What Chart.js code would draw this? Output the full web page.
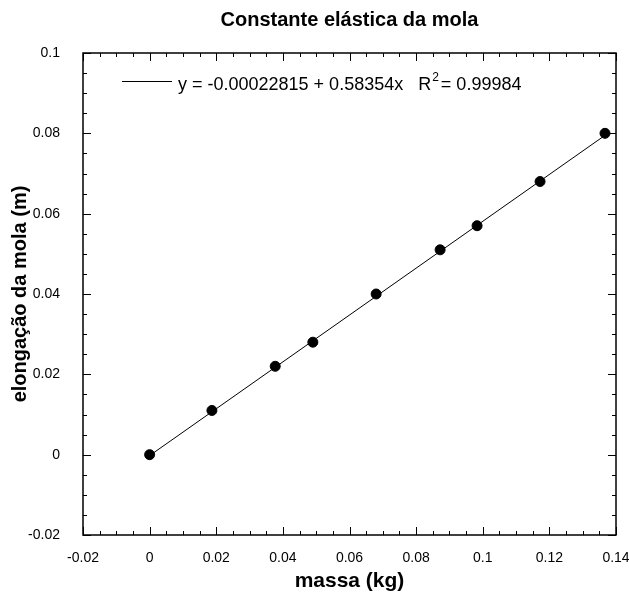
<!DOCTYPE html>
<html>
<head>
<meta charset="utf-8">
<script src="https://cdn.jsdelivr.net/npm/chart.js@4.4.0/dist/chart.umd.min.js"></script>
<style>
  html, body { margin: 0; padding: 0; background: #fff; }
  #grafico { display: block; }
</style>
</head>
<body>
<canvas id="grafico" width="629" height="594"></canvas>
<script>
// dados medidos: massa (kg) e elongação (m)
const massa = [0, 0.0187, 0.0377, 0.049, 0.068, 0.0872, 0.0983, 0.1172, 0.1367];
const elongacao = [0, 0.011, 0.022, 0.028, 0.040, 0.051, 0.057, 0.068, 0.080];

// reta ajustada (extremos)
const ajusteX = [0, 0.1367];
const ajusteY = [-0.00023, 0.0795];
const textoAjuste = 'y = -0.00022815 + 0.58354x';
const textoR2 = '= 0.99984';

const xTicks = [-0.02, 0, 0.02, 0.04, 0.06, 0.08, 0.1, 0.12, 0.14];
const xTickLabels = ['-0.02', '0', '0.02', '0.04', '0.06', '0.08', '0.1', '0.12', '0.14'];
const yTicks = [-0.02, 0, 0.02, 0.04, 0.06, 0.08, 0.1];
const yTickLabels = ['-0.02', '0', '0.02', '0.04', '0.06', '0.08', '0.1'];

const fonte = 'Arial, "Liberation Sans", sans-serif';

function pontos(xs, ys) {
    return xs.map((x, i) => ({x: x, y: ys[i]}));
}

// caixa + marcas para dentro nos quatro lados
const marcas = {
    id: 'marcas',
    afterDraw(chart) {
        const c = chart.ctx;
        const a = chart.chartArea;
        const sx = chart.scales.x, sy = chart.scales.y;
        c.save();
        c.strokeStyle = '#000';
        c.lineWidth = 1;
        c.beginPath();
        for (let i = 0; i <= 32; i++) {
            let v = -0.02 + i * 0.005;
            let px = Math.round(sx.getPixelForValue(v)) + 0.5;
            let len = (i % 4 == 0) ? 8 : 4;
            c.moveTo(px, a.bottom); c.lineTo(px, a.bottom - len);
            c.moveTo(px, a.top); c.lineTo(px, a.top + len);
        }
        for (let i = 0; i <= 24; i++) {
            let v = -0.02 + i * 0.005;
            let py = Math.round(sy.getPixelForValue(v)) + 0.5;
            let len = (i % 4 == 0) ? 8 : 4;
            c.moveTo(a.left, py); c.lineTo(a.left + len, py);
            c.moveTo(a.right, py); c.lineTo(a.right - len, py);
        }
        c.stroke();
        c.lineWidth = 1.5;
        c.strokeRect(a.left, a.top, a.right - a.left, a.bottom - a.top);

        // legenda do ajuste
        c.lineWidth = 1;
        c.beginPath();
        c.moveTo(122, 81.5); c.lineTo(172, 81.5);
        c.stroke();
        c.fillStyle = '#000';
        c.textBaseline = 'middle';
        c.font = '18px ' + fonte;
        let x = 178;
        c.fillText(textoAjuste, x, 85);
        x += c.measureText(textoAjuste).width + 15;
        c.fillText('R', x, 85);
        x += c.measureText('R').width + 1;
        c.font = '12px ' + fonte;
        c.fillText('2', x, 78);
        x += c.measureText('2').width + 2;
        c.font = '18px ' + fonte;
        c.fillText(textoR2, x, 85);
        c.restore();
    }
};

const ctx = document.getElementById('grafico');

new Chart(ctx, {
    type: 'scatter',
    data: {
        datasets: [{
            label: 'medidas',
            data: pontos(massa, elongacao),
            backgroundColor: '#000',
            borderColor: '#000',
            pointRadius: 5,
            pointHoverRadius: 5
        }, {
            label: 'ajuste',
            type: 'line',
            data: pontos(ajusteX, ajusteY),
            borderColor: '#000',
            borderWidth: 1,
            pointRadius: 0,
            fill: false
        }]
    },
    options: {
        responsive: false,
        animation: false,
        devicePixelRatio: 1,
        layout: { padding: { left: 0, right: 0, top: 0, bottom: 0 } },
        plugins: {
            legend: { display: false },
            tooltip: { enabled: false },
            title: {
                display: true,
                text: 'Constante elástica da mola',
                color: '#000',
                fullSize: false,
                font: { family: fonte, size: 20, weight: 'bold' },
                padding: { top: 8, bottom: 21 }
            }
        },
        scales: {
            x: {
                type: 'linear',
                min: -0.02,
                max: 0.14,
                grid: { display: false },
                border: { display: false },
                afterBuildTicks: s => { s.ticks = xTicks.map(v => ({value: v})); },
                afterFit: s => { s.height = 59; s.paddingLeft = 0; s.paddingRight = 13; },
                ticks: {
                    color: '#000',
                    padding: 7,
                    font: { family: fonte, size: 14 },
                    callback: (v, i) => xTickLabels[i]
                },
                title: {
                    display: true,
                    text: 'massa (kg)',
                    color: '#000',
                    font: { family: fonte, size: 21, weight: 'bold' },
                    padding: { top: 3, bottom: 0 }
                }
            },
            y: {
                type: 'linear',
                min: -0.02,
                max: 0.1,
                grid: { display: false },
                border: { display: false },
                afterBuildTicks: s => { s.ticks = yTicks.map(v => ({value: v})); },
                afterFit: s => { s.width = 83; },
                ticks: {
                    color: '#000',
                    padding: 15,
                    font: { family: fonte, size: 14 },
                    callback: (v, i) => yTickLabels[i]
                },
                title: {
                    display: true,
                    text: 'elongação da mola (m)',
                    color: '#000',
                    font: { family: fonte, size: 20, weight: 'bold' },
                    padding: { top: 8, bottom: 0 }
                }
            }
        }
    },
    plugins: [marcas]
});
</script>
</body>
</html>
